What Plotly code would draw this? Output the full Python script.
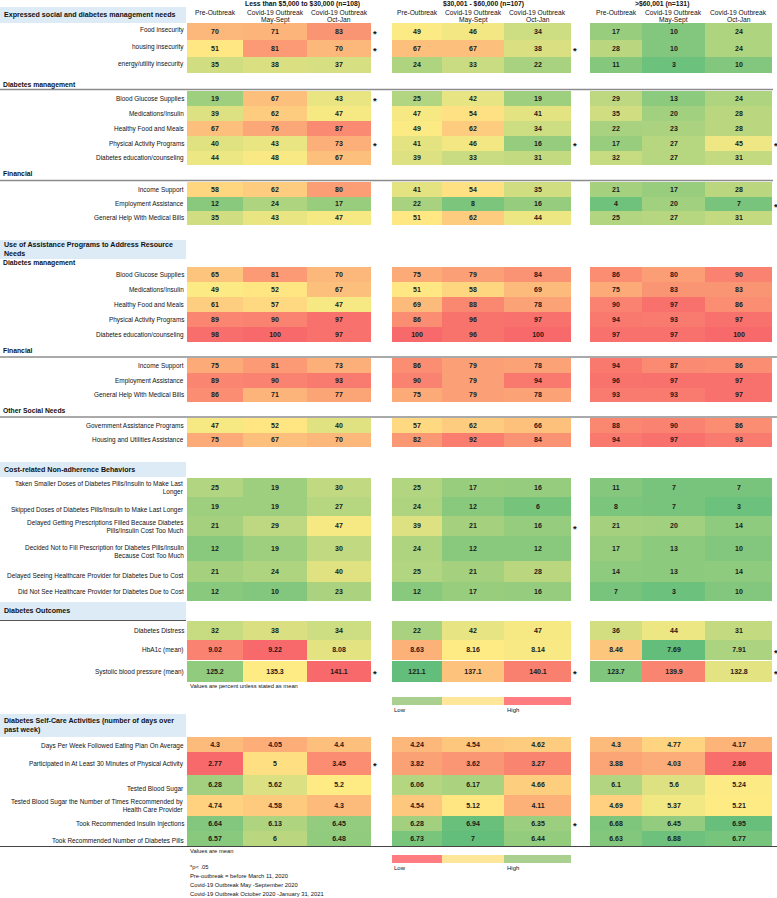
import numpy as np
import plotly.graph_objects as go

# ---------------- DATA ----------------
GROUPS = ["Less than $5,000 to $30,000 (n=108)", "$30,001 - $60,000 (n=107)", ">$60,001 (n=131)"]
PERIODS = [["Pre-Outbreak"], ["Covid-19 Outbreak", "May-Sept"], ["Covid-19 Outbreak", "Oct-Jan"]]

needs_rows = ["Food insecurity", "housing insecurity", "energy/utility insecurity"]
needs_g1 = [[70, 71, 83], [51, 81, 70], [35, 38, 37]]
needs_g2 = [[49, 46, 34], [67, 67, 38], [24, 33, 22]]
needs_g3 = [[17, 10, 24], [28, 10, 24], [11, 3, 10]]

dm_rows = ["Blood Glucose Supplies", "Medications/Insulin", "Healthy Food and Meals",
           "Physical Activity Programs", "Diabetes education/counseling"]
need_dm_g1 = [[19, 67, 43], [39, 62, 47], [67, 76, 87], [40, 43, 73], [44, 48, 67]]
need_dm_g2 = [[25, 42, 19], [47, 54, 41], [49, 62, 34], [41, 46, 16], [39, 33, 31]]
need_dm_g3 = [[29, 13, 24], [35, 20, 28], [22, 23, 28], [17, 27, 45], [32, 27, 31]]

fin_rows = ["Income Support", "Employment Assistance", "General Help With Medical Bills"]
need_fin_g1 = [[58, 62, 80], [12, 24, 17], [35, 43, 47]]
need_fin_g2 = [[41, 54, 35], [22, 8, 16], [51, 62, 44]]
need_fin_g3 = [[21, 17, 28], [4, 20, 7], [25, 27, 31]]

use_dm_g1 = [[65, 81, 70], [49, 52, 67], [61, 57, 47], [89, 90, 97], [98, 100, 97]]
use_dm_g2 = [[75, 79, 84], [51, 58, 69], [69, 88, 78], [86, 96, 97], [100, 96, 100]]
use_dm_g3 = [[86, 80, 90], [75, 83, 83], [90, 97, 86], [94, 93, 97], [97, 97, 100]]

use_fin_g1 = [[75, 81, 73], [89, 90, 93], [86, 71, 77]]
use_fin_g2 = [[86, 79, 78], [90, 79, 94], [75, 79, 78]]
use_fin_g3 = [[94, 87, 86], [96, 97, 97], [93, 93, 97]]

other_rows = ["Government Assistance Programs", "Housing and Utilities Assistance"]
use_other_g1 = [[47, 52, 40], [75, 67, 70]]
use_other_g2 = [[57, 62, 66], [82, 92, 84]]
use_other_g3 = [[88, 90, 86], [94, 97, 93]]

cost_rows = ["Taken Smaller Doses of Diabetes Pills/Insulin to Make Last<br>Longer",
             "Skipped Doses of Diabetes Pills/Insulin to Make Last Longer",
             "Delayed Getting Prescriptions Filled Because Diabetes<br>Pills/Insulin Cost Too Much",
             "Decided Not to Fill Prescription for Diabetes Pills/Insulin<br>Because Cost Too Much",
             "Delayed Seeing Healthcare Provider for Diabetes Due to Cost",
             "Did Not See Healthcare Provider for Diabetes Due to Cost"]
cost_g1 = [[25, 19, 30], [19, 19, 27], [21, 29, 47], [12, 19, 30], [21, 24, 40], [12, 10, 23]]
cost_g2 = [[25, 17, 16], [24, 12, 6], [39, 21, 16], [24, 12, 12], [25, 21, 28], [12, 17, 16]]
cost_g3 = [[11, 7, 7], [8, 7, 3], [21, 20, 14], [17, 13, 10], [14, 13, 14], [7, 3, 10]]

distress_row = ["Diabetes Distress"]
distress = [[[32, 38, 34]], [[22, 42, 47]], [[36, 44, 31]]]
hba1c_row = ["HbA1c (mean)"]
hba1c = [[[9.02, 9.22, 8.08]], [[8.63, 8.16, 8.14]], [[8.46, 7.69, 7.91]]]
sbp_row = ["Systolic blood pressure (mean)"]
sbp = [[[125.2, 135.3, 141.1]], [[121.1, 137.1, 140.1]], [[123.7, 139.9, 132.8]]]

self_rows = ["Days Per Week Followed Eating Plan On Average",
             "Participated in At Least 30 Minutes of Physical Activity",
             "Tested Blood Sugar",
             "Tested Blood Sugar the Number of Times Recommended by<br>Health Care Provider",
             "Took Recommended Insulin Injections",
             "Took Recommended Number of Diabetes Pills"]
self_g1 = [[4.3, 4.05, 4.4], [2.77, 5, 3.45], [6.28, 5.62, 5.2], [4.74, 4.58, 4.3], [6.64, 6.13, 6.45], [6.57, 6, 6.48]]
self_g2 = [[4.24, 4.54, 4.62], [3.82, 3.62, 3.27], [6.06, 6.17, 4.66], [4.54, 5.12, 4.11], [6.28, 6.94, 6.35], [6.73, 7, 6.44]]
self_g3 = [[4.3, 4.77, 4.17], [3.88, 4.03, 2.86], [6.1, 5.6, 5.24], [4.69, 5.37, 5.21], [6.68, 6.45, 6.95], [6.63, 6.88, 6.77]]

# significance markers (p < .05), per income group
sig_g1 = ["Food insecurity", "housing insecurity", "need:Blood Glucose Supplies", "need:Physical Activity Programs",
          "Systolic blood pressure (mean)", "Participated in At Least 30 Minutes of Physical Activity"]
sig_g2 = ["housing insecurity", "need:Physical Activity Programs",
          "Delayed Getting Prescriptions Filled Because Diabetes<br>Pills/Insulin Cost Too Much",
          "Systolic blood pressure (mean)", "Took Recommended Insulin Injections"]
sig_g3 = ["need:Physical Activity Programs", "need:Employment Assistance", "HbA1c (mean)",
          "Systolic blood pressure (mean)"]

# ---------------- STYLE / LAYOUT ----------------
W, H = 777, 898
FONT = "Liberation Sans"
GREEN, YELLOW, RED = "#63BE7B", "#FFEB84", "#F8696B"
COL_EDGES = [187, 243, 307, 371, 392, 442, 504, 571, 590, 642, 705, 772]
GROUP_COLS = [[0, 1, 2], [4, 5, 6], [8, 9, 10]]

fig = go.Figure()
annotations = []
shapes = []


def txt(x, y, s, size=6.8, bold=False, xanchor="left", yanchor="middle", align="left", color="#111"):
    annotations.append(dict(x=x, y=y, xref="x", yref="y", text=s, showarrow=False,
                            xanchor=xanchor, yanchor=yanchor, align=align,
                            font=dict(family=FONT, size=size, color=color,
                                      weight="bold" if bold else "normal")))


def scale(vals, mode):
    flat = np.array(vals, dtype=float).ravel()
    if mode == "pct":
        return 0, 100, [[0, GREEN], [0.5, YELLOW], [1, RED]]
    lo, hi, md = flat.min(), flat.max(), np.median(flat)
    m = (md - lo) / (hi - lo)
    if mode == "rev":
        return lo, hi, [[0, RED], [m, YELLOW], [1, GREEN]]
    return lo, hi, [[0, GREEN], [m, YELLOW], [1, RED]]


row_centers = {}


def block(rows, groups, y0, heights, mode, align="c", key_prefix=""):
    n = len(rows)
    y_edges = [y0]
    for h in heights:
        y_edges.append(y_edges[-1] + h)
    z = [[None] * 11 for _ in range(n)]
    t = [[""] * 11 for _ in range(n)]
    for gi, g in enumerate(groups):
        for r in range(n):
            for p in range(3):
                c = GROUP_COLS[gi][p]
                z[r][c] = g[r][p]
                t[r][c] = f"{g[r][p]:g}"
    zmin, zmax, cs = scale([g for g in groups], mode)
    fig.add_trace(go.Heatmap(x=COL_EDGES, y=y_edges, z=z, text=t, texttemplate="%{text}",
                             textfont=dict(family=FONT, size=7, color="#1a1a1a", weight="bold"),
                             colorscale=cs, zmin=zmin, zmax=zmax, showscale=False,
                             hoverinfo="skip", xgap=0, ygap=0))
    for r, lab in enumerate(rows):
        top, bot = y_edges[r], y_edges[r + 1]
        row_centers[key_prefix + lab] = (top + bot) / 2
        a = align[r] if len(align) > 1 else align
        if a == "t":
            txt(185.5, top + 1, lab, size=6.45, xanchor="right", yanchor="top", align="right")
        elif a == "b":
            txt(185.5, bot, lab, size=6.45, xanchor="right", yanchor="bottom", align="right")
        else:
            txt(185.5, (top + bot) / 2, lab, size=6.45, xanchor="right", yanchor="middle", align="right")
    return y_edges


# Section: expressed needs
block(needs_rows, [needs_g1, needs_g2, needs_g3], 23, [17, 17, 16], "pct", align="t")
block(dm_rows, [need_dm_g1, need_dm_g2, need_dm_g3], 91, [15, 15, 15, 15, 14], "pct", key_prefix="need:")
block(fin_rows, [need_fin_g1, need_fin_g2, need_fin_g3], 182, [15, 14, 14], "pct", key_prefix="need:")
# Section: use of assistance
block(dm_rows, [use_dm_g1, use_dm_g2, use_dm_g3], 267, [15, 15, 15, 15, 15], "pct", key_prefix="use:")
block(fin_rows, [use_fin_g1, use_fin_g2, use_fin_g3], 358, [15, 15, 14], "pct", key_prefix="use:")
block(other_rows, [use_other_g1, use_other_g2, use_other_g3], 418, [15, 14], "pct", key_prefix="use:")
# Section: cost-related non-adherence
block(cost_rows, [cost_g1, cost_g2, cost_g3], 478, [19, 19, 20, 25, 21, 19], "pct", align="cbcbbc")
# Section: outcomes
block(distress_row, distress, 621, [19], "pct")
block(hba1c_row, hba1c, 640, [20], "row")
block(sbp_row, sbp, 661, [21], "row")
# Section: self-care
block(self_rows, [self_g1, self_g2, self_g3], 737, [15, 23, 20, 21, 15, 15], "rev", align="bcbccb")

# significance asterisks
for gi, sig in enumerate([sig_g1, sig_g2, sig_g3]):
    xr = COL_EDGES[GROUP_COLS[gi][2] + 1] + 3.5
    for key in sig:
        txt(xr, row_centers[key] + 2, "*", size=9.5, bold=True, xanchor="center")

# column headers
group_title_x = [302, 483, 662]
for gi, g in enumerate(GROUPS):
    txt(group_title_x[gi], 3.5, g, size=6.8, bold=True, xanchor="center")
    for p, lines in enumerate(PERIODS):
        c = GROUP_COLS[gi][p]
        cx = (COL_EDGES[c] + COL_EDGES[c + 1]) / 2
        for li, line in enumerate(lines):
            txt(cx, 12 + 7.5 * li, line, size=6.7, xanchor="center")

# section header boxes
sections = [("Expressed social and diabetes management needs", 7, 23),
            ("Use of Assistance Programs to Address Resource<br>Needs", 240, 259),
            ("Cost-related Non-adherence Behaviors", 462, 477),
            ("Diabetes Outcomes", 602, 620),
            ("Diabetes Self-Care Activities (number of days over<br>past week)", 714, 737)]
for s, y0, y1 in sections:
    shapes.append(dict(type="rect", xref="x", yref="y", x0=0, x1=186, y0=y0, y1=y1,
                       fillcolor="#DDEBF7", line=dict(width=0), layer="below"))
    txt(2, (y0 + y1) / 2, s, size=7.1, bold=True)

subheads = [("Diabetes management", 85), ("Financial", 173), ("Diabetes management", 263),
            ("Financial", 350), ("Other Social Needs", 410)]
for s, y in subheads:
    txt(1, y, s, size=6.8, bold=True)

rules = [(89.5, 0, 773, "#8c8c8c", 1.6), (180.5, 0, 773, "#8c8c8c", 1.6),
         (357, 0, 777, "#555555", 1.0), (417, 0, 777, "#555555", 1.0),
         (620.5, 0, 186, "#555555", 1.0), (846.5, 0, 777, "#444444", 1.0)]
for y, x0, x1, col, w in rules:
    shapes.append(dict(type="line", xref="x", yref="y", x0=x0, x1=x1, y0=y, y1=y,
                       line=dict(color=col, width=w)))

# colour keys
LG, LY, LR = "#A9D08E", "#FFE699", "#FF7C80"
for y0, cols in [(697, [LG, LY, LR]), (855, [LR, LY, LG])]:
    for i, col in enumerate(cols):
        shapes.append(dict(type="rect", xref="x", yref="y", x0=[392, 442, 504][i], x1=[442, 504, 571][i],
                           y0=y0, y1=y0 + 8, fillcolor=col, line=dict(width=0)))
    txt(392, y0 + 12.5, "Low", size=6)
    txt(505, y0 + 12.5, "High", size=6)

txt(188, 686, "Values are percent unless stated as mean", size=5.8)
txt(188, 851, "Values are mean", size=5.8)
notes = ["*p< .05", "Pre-outbreak = before March 11, 2020", "Covid-19 Outbreak May -September 2020",
         "Covid-19 Outbreak October 2020 -January 31, 2021"]
for i, n in enumerate(notes):
    txt(188, 867 + 9 * i, n, size=5.8)

fig.update_layout(
    width=W, height=H, margin=dict(l=0, r=0, t=0, b=0),
    paper_bgcolor="white", plot_bgcolor="white",
    xaxis=dict(range=[0, W], visible=False, fixedrange=True),
    yaxis=dict(range=[H, 0], visible=False, fixedrange=True),
    annotations=annotations, shapes=shapes, showlegend=False,
)
fig.write_html("out.html", config={"staticPlot": True},
               post_script="document.body.style.margin='0';document.body.style.overflow='hidden';")
